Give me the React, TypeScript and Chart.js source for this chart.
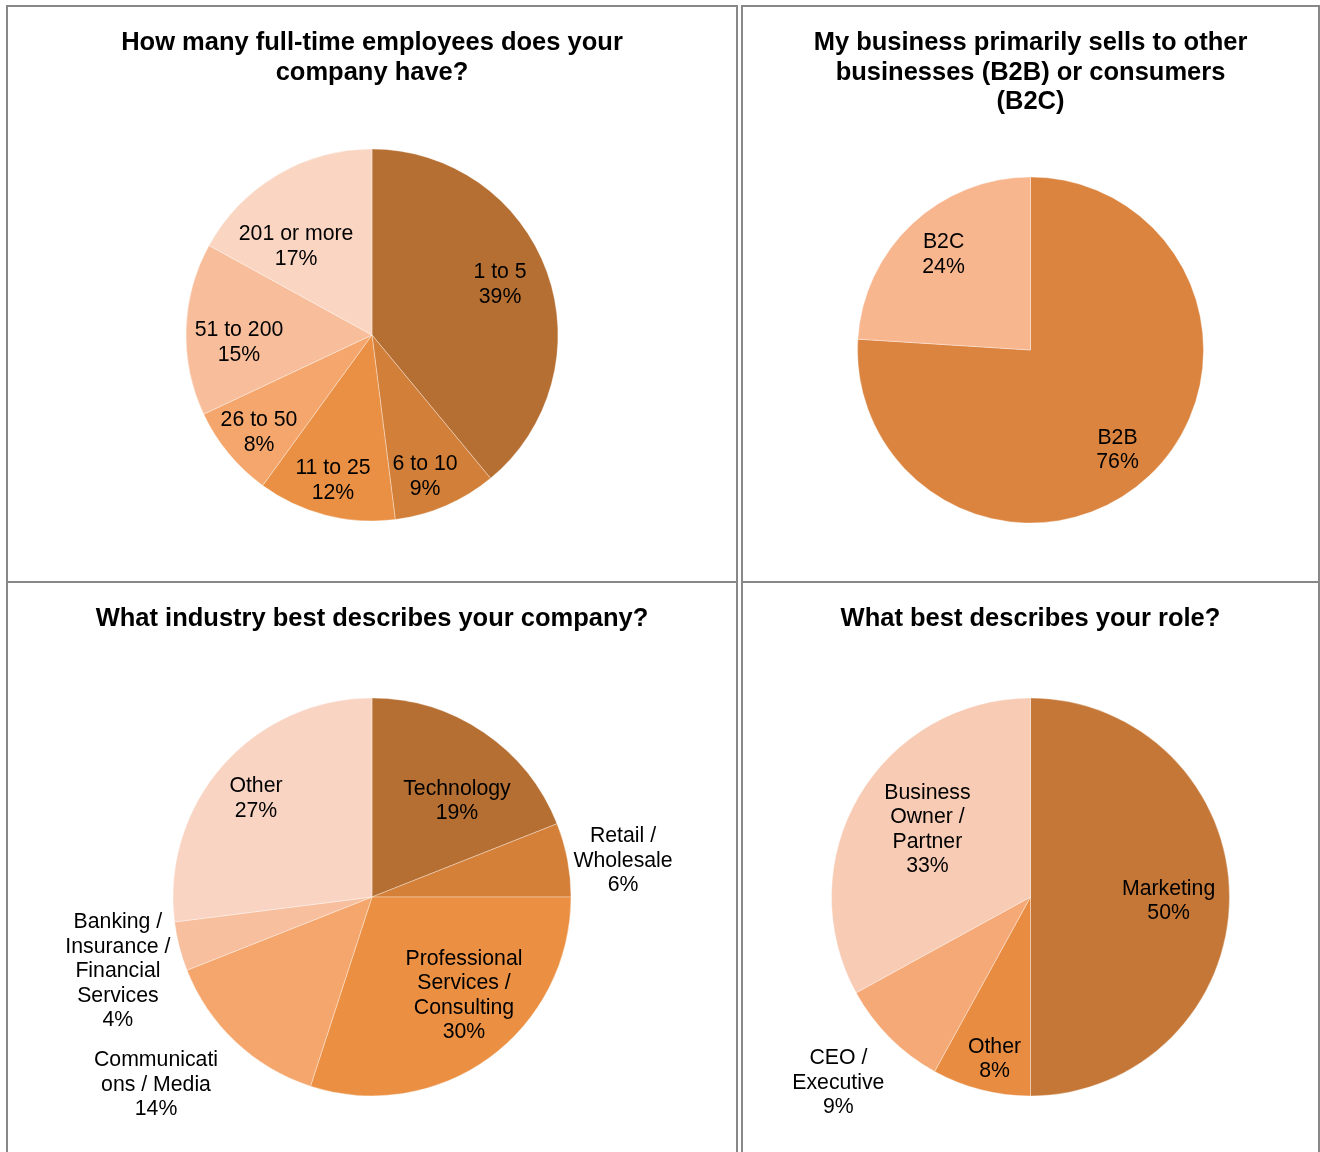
import React, { useEffect, useRef } from 'react';
import { Chart, registerables } from 'chart.js';

Chart.register(...registerables);

// ---------- data ----------
const employeeTitle = ['How many full-time employees does your', 'company have?'];
const employeeCategories = [['1 to 5'], ['6 to 10'], ['11 to 25'], ['26 to 50'], ['51 to 200'], ['201 or more']];
const employeeValues = [39, 9, 12, 8, 15, 17];

const salesTitle = ['My business primarily sells to other', 'businesses (B2B) or consumers', '(B2C)'];
const salesCategories = [['B2B'], ['B2C']];
const salesValues = [76, 24];

const industryTitle = ['What industry best describes your company?'];
const industryCategories = [
  ['Technology'],
  ['Retail /', 'Wholesale'],
  ['Professional', 'Services /', 'Consulting'],
  ['Communicati', 'ons / Media'],
  ['Banking /', 'Insurance /', 'Financial', 'Services'],
  ['Other'],
];
const industryValues = [19, 6, 30, 14, 4, 27];

const roleTitle = ['What best describes your role?'];
const roleCategories = [['Marketing'], ['Other'], ['CEO /', 'Executive'], ['Business', 'Owner /', 'Partner']];
const roleValues = [50, 8, 9, 33];

// ---------- styles ----------
const employeeColors = ['#B66F33', '#D27F3A', '#EA9044', '#F4A66C', '#F8BE9C', '#F9D5C2'];
const salesColors = ['#DB843F', '#F8B68F'];
const industryColors = ['#B66F33', '#D48039', '#EB9043', '#F5A66C', '#F8BF9F', '#F9D4C2'];
const roleColors = ['#C47737', '#E88C42', '#F5A977', '#F8CBB4'];

// label placement relative to each slice: radius factor and angular shift (deg)
const employeeLabelR = [0.742, 0.807, 0.805, 0.799, 0.716, 0.631];
const employeeLabelShift = [-2.1, 2.7, 0.7, -0.9, -4.6, -9.7];
const salesLabelR = [0.762, 0.751];
const salesLabelShift = [1.9, 1.2];
const industryLabelR = [0.648, 1.275, 0.674, 1.436, 1.329, 0.768];
const industryLabelShift = [7, 2.4, -7.3, 5.9, -1.7, -0.8];
const roleLabelR = [0.694, 0.829, 1.34, 0.622];
const roleLabelShift = [1.2, -1.8, 1.1, 3];

const FAMILY = "'Liberation Sans', Arial, Helvetica, sans-serif";

const sliceLabels = {
  id: 'sliceLabels',
  afterDatasetsDraw(chart: any, _args: any, opts: any) {
    const { ctx } = chart;
    const meta = chart.getDatasetMeta(0);
    const ds = chart.data.datasets[0];
    ctx.save();
    ctx.font = `normal ${opts.size}px ${FAMILY}`;
    ctx.fillStyle = '#000';
    ctx.textAlign = 'center';
    ctx.textBaseline = 'middle';
    meta.data.forEach((arc: any, i: number) => {
      const p = arc.getProps(['x', 'y', 'startAngle', 'endAngle', 'outerRadius'], true);
      const a = (p.startAngle + p.endAngle) / 2 + (opts.shifts[i] * Math.PI) / 180;
      const rr = p.outerRadius * opts.factors[i];
      const cx = p.x + Math.cos(a) * rr;
      const cy = p.y + Math.sin(a) * rr + 1;
      const lab = chart.data.labels[i];
      const lines = [...(Array.isArray(lab) ? lab : [lab]), `${ds.data[i]}%`];
      lines.forEach((t: string, k: number) => {
        ctx.fillText(t, cx, cy + (k - (lines.length - 1) / 2) * opts.lineHeight);
      });
    });
    ctx.restore();
  },
};

type PieProps = {
  title: string[];
  labels: string[][];
  values: number[];
  colors: string[];
  width: number;
  height: number;
  radius: number;
  padBottom: number;
  labelR: number[];
  labelShift: number[];
};

function PiePanel(props: PieProps) {
  const ref = useRef<HTMLCanvasElement | null>(null);
  useEffect(() => {
    if (!ref.current) return;
    const chart = new Chart(ref.current, {
      type: 'pie',
      data: {
        labels: props.labels as any,
        datasets: [
          {
            data: props.values,
            backgroundColor: props.colors,
            borderColor: 'rgba(255,255,255,0.45)',
            borderWidth: 0.75,
            clip: false as any,
          },
        ],
      },
      options: {
        animation: false,
        responsive: false,
        radius: props.radius,
        layout: { padding: { top: 0, left: 0, right: 0, bottom: props.padBottom } },
        plugins: {
          legend: { display: false },
          tooltip: { enabled: false },
          title: {
            display: true,
            text: props.title,
            color: '#000',
            font: { family: FAMILY, size: 25.5, weight: 'bold', lineHeight: '29.5px' },
            padding: { top: 21.25, bottom: 20 },
          },
          sliceLabels: {
            size: 21.25,
            lineHeight: 24.5,
            factors: props.labelR,
            shifts: props.labelShift,
          },
        } as any,
      } as any,
      plugins: [sliceLabels as any],
    });
    return () => chart.destroy();
  }, []);
  return (
    <canvas
      ref={ref}
      width={props.width}
      height={props.height}
      style={{ display: 'block', width: props.width, height: props.height }}
    />
  );
}

export default function App() {
  const border = '2px solid #888';
  return (
    <div
      style={{
        position: 'fixed',
        left: 0,
        top: 0,
        width: 1320,
        height: 1152,
        overflow: 'hidden',
        background: '#fff',
      }}
    >
      <div
        style={{
          position: 'absolute',
          left: 6,
          top: 5,
          width: 732,
          height: 1170,
          boxSizing: 'border-box',
          border,
        }}
      >
        <PiePanel
          title={employeeTitle}
          labels={employeeCategories}
          values={employeeValues}
          colors={employeeColors}
          width={728}
          height={574}
          radius={186}
          padBottom={18.25}
          labelR={employeeLabelR}
          labelShift={employeeLabelShift}
        />
        <div style={{ height: 2, background: '#888' }} />
        <PiePanel
          title={industryTitle}
          labels={industryCategories}
          values={industryValues}
          colors={industryColors}
          width={728}
          height={572}
          radius={199}
          padBottom={14.75}
          labelR={industryLabelR}
          labelShift={industryLabelShift}
        />
      </div>
      <div
        style={{
          position: 'absolute',
          left: 741,
          top: 5,
          width: 579,
          height: 1170,
          boxSizing: 'border-box',
          border,
        }}
      >
        <PiePanel
          title={salesTitle}
          labels={salesCategories}
          values={salesValues}
          colors={salesColors}
          width={575}
          height={574}
          radius={173}
          padBottom={17.75}
          labelR={salesLabelR}
          labelShift={salesLabelShift}
        />
        <div style={{ height: 2, background: '#888' }} />
        <PiePanel
          title={roleTitle}
          labels={roleCategories}
          values={roleValues}
          colors={roleColors}
          width={575}
          height={572}
          radius={199}
          padBottom={14.75}
          labelR={roleLabelR}
          labelShift={roleLabelShift}
        />
      </div>
    </div>
  );
}
